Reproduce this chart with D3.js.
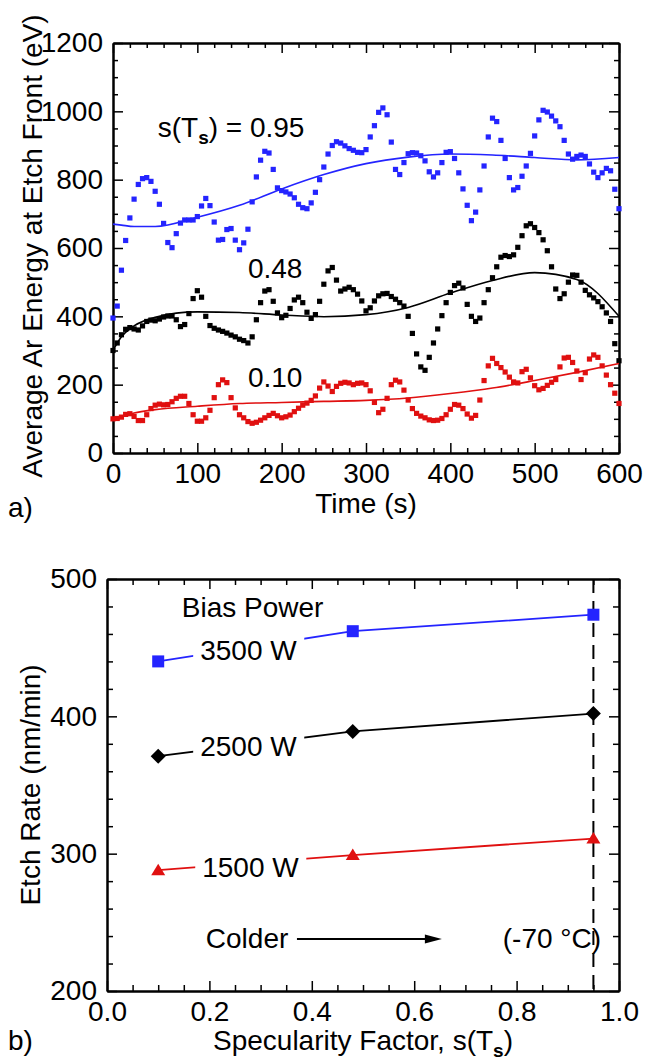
<!DOCTYPE html>
<html>
<head>
<meta charset="utf-8">
<script src="https://cdn.jsdelivr.net/npm/d3@7"></script>
<style>
body { margin: 0; background: #fff; }
svg { display: block; }
text { font-family: "Liberation Sans", Arial, Helvetica, sans-serif; fill: #000; }
</style>
</head>
<body>
<svg id="chart"></svg>
<script>
// panel a) - average Ar energy at the etch front, read every 5 s
var timeS = [0,5,10,15,20,25,30,35,40,45,50,55,60,65,70,75,80,85,90,95,
    100,105,110,115,120,125,130,135,140,145,150,155,160,165,170,175,180,185,190,195,
    200,205,210,215,220,225,230,235,240,245,250,255,260,265,270,275,280,285,290,295,
    300,305,310,315,320,325,330,335,340,345,350,355,360,365,370,375,380,385,390,395,
    400,405,410,415,420,425,430,435,440,445,450,455,460,465,470,475,480,485,490,495,
    500,505,510,515,520,525,530,535,540,545,550,555,560,565,570,575,580,585,590,595,600];
var energy095 = [395,430,535,622,688,743,786,803,806,795,
    766,728,672,616,601,642,673,682,682,682,
    692,723,745,724,676,623,625,654,657,623,
    595,615,655,735,808,857,883,878,830,776,
    768,764,758,747,728,718,715,732,763,800,
    837,875,900,911,907,899,891,886,880,879,
    888,925,958,997,1010,990,910,830,815,850,
    876,879,878,870,855,823,808,820,850,880,
    882,862,820,773,725,680,705,770,840,925,
    980,970,915,862,806,770,777,810,840,877,
    928,975,1003,998,986,972,955,915,875,860,
    868,872,868,846,822,806,820,833,826,772,715];
var energy048 = [300,322,346,362,367,363,360,372,385,389,
    387,392,398,401,401,390,370,376,408,452,
    475,456,400,373,365,360,356,351,345,340,
    333,329,322,340,390,440,474,478,444,410,
    396,403,423,448,456,440,412,394,405,444,
    494,533,543,506,474,480,485,478,465,445,
    416,425,445,460,466,467,458,450,440,430,
    400,350,290,252,242,280,322,363,402,440,
    470,490,497,483,435,400,385,395,440,478,
    513,545,573,578,575,580,602,636,665,671,
    660,645,624,592,545,480,452,466,500,521,
    520,500,476,463,454,443,428,410,385,320,270];
var energy010 = [100,101,105,113,115,107,95,95,112,130,
    140,143,141,142,150,160,166,166,145,112,
    93,93,103,125,162,200,214,206,162,132,
    112,103,92,87,90,96,103,110,116,109,
    103,106,111,121,131,140,146,154,167,190,
    208,196,180,195,204,207,205,200,204,205,
    200,182,148,118,128,160,200,213,208,184,
    155,130,116,108,103,97,95,96,101,112,
    128,142,140,130,114,102,110,155,212,255,
    277,262,250,237,222,208,205,238,245,220,
    197,185,189,198,207,215,252,278,280,265,
    240,215,235,275,287,280,255,228,200,175,145];

// smooth fits through the noisy traces
var fitTime = [0,10,25,50,100,150,200,250,300,350,400,450,500,550,600];
var fit095 = [670,667,663,663,690,725,773,815,847,866,875,872,865,858,865];
var fit048 = [300,340,372,397,413,411,404,399,405,426,468,505,528,508,400];
var fit010 = [100,106,117,127,137,145,148,151,154,161,174,190,212,236,262];

// panel b) - etch rate against specularity factor
var specularity = [0.10, 0.48, 0.95];
var rate3500 = [440, 462, 474];
var rate2500 = [371, 389, 402];
var rate1500 = [288, 299, 311];
var powerLabels = ['3500 W', '2500 W', '1500 W'];
var coldSpec = 0.95;

var blue = '#2424ff';
var red = '#e01010';

var width = 645;
var height = 1061;
var svg = d3.select('#chart')
    .attr('width', width)
    .attr('height', height);

var xTime = d3.scaleLinear().domain([0, 600]).range([113, 619]);
var yEnergy = d3.scaleLinear().domain([0, 1200]).range([453, 43]);
var xSpec = d3.scaleLinear().domain([0, 1]).range([107, 619]);
var yRate = d3.scaleLinear().domain([200, 500]).range([991, 579]);

function minorTicks(lo, hi, step, major) {
    return d3.range(lo, hi + step / 2, step)
        .filter(v => !major.some(m => Math.abs(m - v) < 1e-6));
}

function styleAxis(g) {
    g.attr('font-size', 28).attr('font-family', null);
    g.select('.domain').attr('stroke-width', 2);
    g.selectAll('.tick line').attr('stroke-width', 1.5);
}

// ticks point inwards on all four sides, labels only bottom/left
function drawFrame(x, y, xMajor, xMinor, yMajor, yMinor, xFmt, yFmt, minorLen) {
    var bottom = y.range()[0], top = y.range()[1];
    var left = x.range()[0], right = x.range()[1];
    var sides = [
        {axis: d3.axisBottom(x), at: `translate(0,${bottom})`, major: xMajor, minor: xMinor, fmt: xFmt},
        {axis: d3.axisTop(x), at: `translate(0,${top})`, major: xMajor, minor: xMinor, fmt: ''},
        {axis: d3.axisLeft(y), at: `translate(${left},0)`, major: yMajor, minor: yMinor, fmt: yFmt},
        {axis: d3.axisRight(y), at: `translate(${right},0)`, major: yMajor, minor: yMinor, fmt: ''}
    ];
    sides.forEach(s => {
        svg.append('g').attr('transform', s.at)
            .call(s.axis.tickValues(s.minor).tickSize(-minorLen).tickSizeOuter(0).tickFormat(''))
            .call(styleAxis);
        svg.append('g').attr('transform', s.at)
            .call(s.axis.tickValues(s.major).tickSize(-10).tickSizeOuter(0).tickPadding(10).tickFormat(s.fmt))
            .call(styleAxis);
    });
}

// ---------- panel a)
var timeMajor = [0, 100, 200, 300, 400, 500, 600];
var energyMajor = [0, 200, 400, 600, 800, 1000, 1200];
drawFrame(xTime, yEnergy,
    timeMajor, minorTicks(0, 600, 20, timeMajor),
    energyMajor, minorTicks(0, 1200, 50, energyMajor),
    d3.format('d'), d3.format('d'), 5);

var seriesA = [
    {values: energy095, fit: fit095, color: blue},
    {values: energy048, fit: fit048, color: '#000'},
    {values: energy010, fit: fit010, color: red}
];

seriesA.forEach(s => {
    svg.append('g').selectAll('rect').data(timeS)
        .enter().append('rect')
        .attr('x', d => xTime(d) - 2.6)
        .attr('y', (d, i) => yEnergy(s.values[i]) - 2.6)
        .attr('width', 5.2)
        .attr('height', 5.2)
        .attr('fill', s.color);

    var fitLine = d3.line()
        .x(d => xTime(d))
        .y((d, i) => yEnergy(s.fit[i]))
        .curve(d3.curveMonotoneX);
    svg.append('path').datum(fitTime)
        .attr('d', fitLine)
        .attr('fill', 'none')
        .attr('stroke', s.color)
        .attr('stroke-width', 1.6);
});

var sLabel = svg.append('text')
    .attr('x', xTime(53))
    .attr('y', yEnergy(925))
    .attr('font-size', 28);
sLabel.append('tspan').text('s(T');
sLabel.append('tspan').text('s').attr('font-size', 19).attr('font-weight', 'bold').attr('dy', 7);
sLabel.append('tspan').text(') = 0.95').attr('dy', -7);

svg.append('text').attr('x', xTime(160)).attr('y', yEnergy(512)).attr('font-size', 28).text('0.48');
svg.append('text').attr('x', xTime(160)).attr('y', yEnergy(193)).attr('font-size', 28).text('0.10');

svg.append('text')
    .attr('transform', 'translate(42,246) rotate(-90)')
    .attr('text-anchor', 'middle')
    .attr('font-size', 28)
    .text('Average Ar Energy at Etch Front (eV)');

svg.append('text')
    .attr('x', 366).attr('y', 513)
    .attr('text-anchor', 'middle')
    .attr('font-size', 28)
    .text('Time (s)');

svg.append('text').attr('x', 8).attr('y', 517).attr('font-size', 28).text('a)');

// ---------- panel b)
var specMajor = [0, 0.2, 0.4, 0.6, 0.8, 1.0];
var rateMajor = [200, 300, 400, 500];
drawFrame(xSpec, yRate,
    specMajor, minorTicks(0, 1, 0.05, specMajor),
    rateMajor, minorTicks(200, 500, 20, rateMajor),
    d3.format('.1f'), d3.format('d'), 6);

svg.append('line')
    .attr('x1', xSpec(coldSpec)).attr('x2', xSpec(coldSpec))
    .attr('y1', yRate(500)).attr('y2', yRate(200))
    .attr('stroke', '#000')
    .attr('stroke-width', 2)
    .attr('stroke-dasharray', '14,8');

var squarePath = 'M-6,-6H6V6H-6Z';
var diamondPath = 'M0,-7.5L7.5,0L0,7.5L-7.5,0Z';
var trianglePath = 'M0,-6.5L7,5L-7,5Z';

var seriesB = [
    {values: rate3500, color: blue, symbol: squarePath, label: powerLabels[0], lx: 0.182, ly: 441},
    {values: rate2500, color: '#000', symbol: diamondPath, label: powerLabels[1], lx: 0.182, ly: 371},
    {values: rate1500, color: red, symbol: trianglePath, label: powerLabels[2], lx: 0.186, ly: 283}
];

var rateLine = values => d3.line()
    .x(d => xSpec(d))
    .y((d, i) => yRate(values[i]));

seriesB.forEach(s => {
    svg.append('path').datum(specularity)
        .attr('d', rateLine(s.values))
        .attr('fill', 'none')
        .attr('stroke', s.color)
        .attr('stroke-width', 1.8);

    var lab = svg.append('g');
    var t = lab.append('text')
        .attr('x', xSpec(s.lx))
        .attr('y', yRate(s.ly))
        .attr('font-size', 28)
        .text(s.label);
    var bb = t.node().getBBox();
    lab.insert('rect', 'text')
        .attr('x', bb.x - 7).attr('y', bb.y)
        .attr('width', bb.width + 14).attr('height', bb.height)
        .attr('fill', '#fff');

    svg.append('g').selectAll('path').data(specularity)
        .enter().append('path')
        .attr('d', s.symbol)
        .attr('transform', (d, i) => `translate(${xSpec(d)},${yRate(s.values[i])})`)
        .attr('fill', s.color);
});

svg.append('text')
    .attr('x', xSpec(0.146)).attr('y', yRate(472.3))
    .attr('font-size', 28)
    .text('Bias Power');

svg.append('text')
    .attr('x', xSpec(0.193)).attr('y', yRate(231.3))
    .attr('font-size', 28)
    .text('Colder');

svg.append('line')
    .attr('x1', xSpec(0.371)).attr('x2', xSpec(0.622))
    .attr('y1', yRate(237.9)).attr('y2', yRate(237.9))
    .attr('stroke', '#000')
    .attr('stroke-width', 2);
svg.append('path')
    .attr('d', `M${xSpec(0.654)},${yRate(237.9)}l-17,-4.5v9z`)
    .attr('fill', '#000');

svg.append('text')
    .attr('x', xSpec(0.773)).attr('y', yRate(231.3))
    .attr('font-size', 28)
    .text('(-70 \u00B0C)');

svg.append('text')
    .attr('transform', 'translate(40,785) rotate(-90)')
    .attr('text-anchor', 'middle')
    .attr('font-size', 28)
    .text('Etch Rate (nm/min)');

var xTitle = svg.append('text')
    .attr('x', 363).attr('y', 1050)
    .attr('text-anchor', 'middle')
    .attr('font-size', 28);
xTitle.append('tspan').text('Specularity Factor, s(T');
xTitle.append('tspan').text('s').attr('font-size', 19).attr('font-weight', 'bold').attr('dy', 7);
xTitle.append('tspan').text(')').attr('dy', -7);

svg.append('text').attr('x', 8).attr('y', 1050).attr('font-size', 28).text('b)');
</script>
</body>
</html>
